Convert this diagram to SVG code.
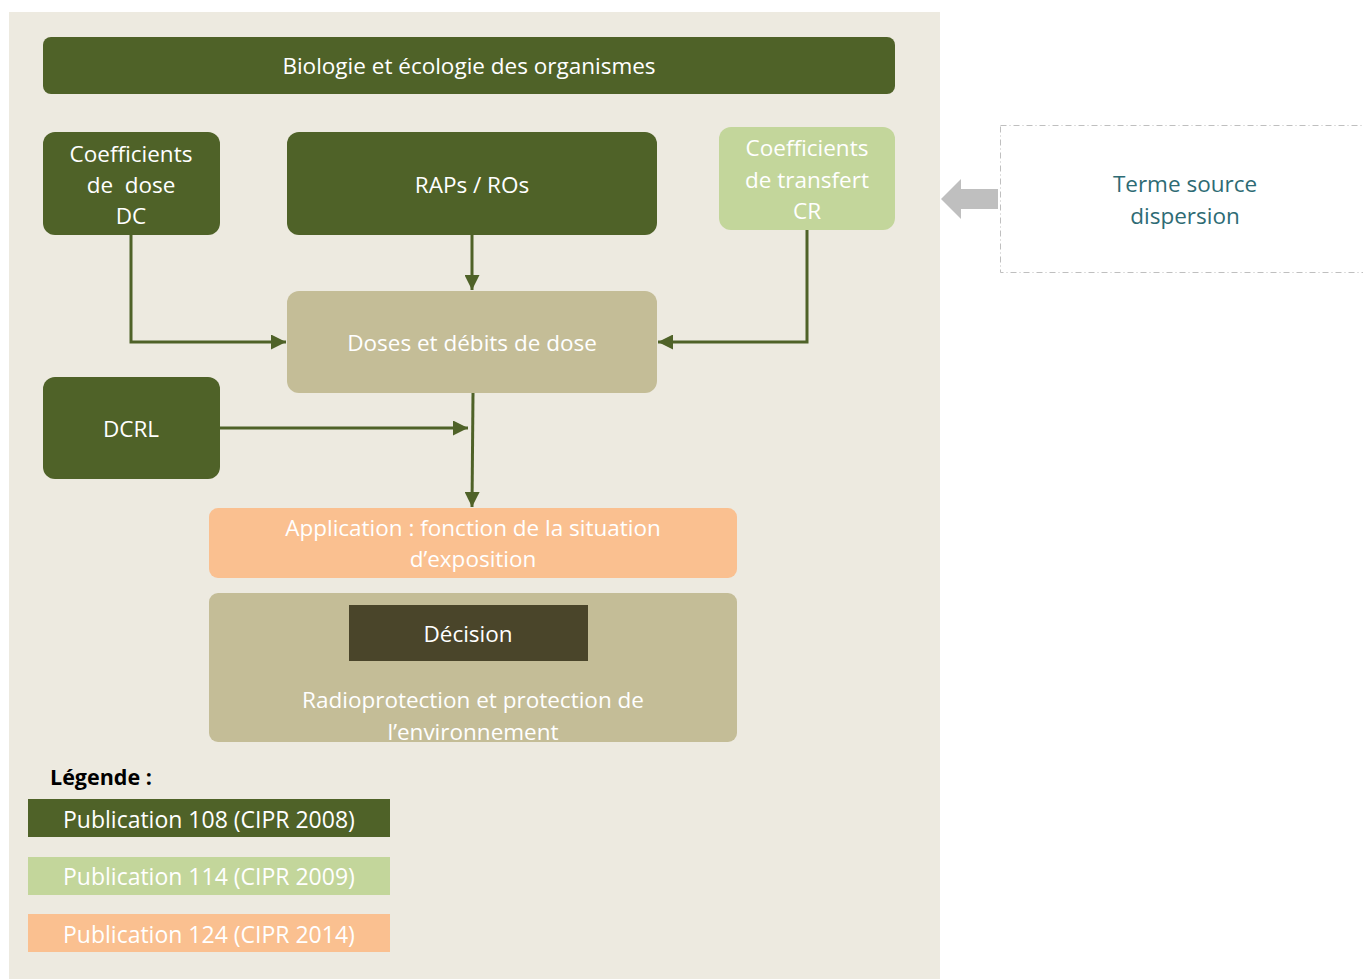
<svg xmlns="http://www.w3.org/2000/svg" width="1363" height="979" viewBox="0 0 1363 979">
  <style>
    text { font-family: "Open Sans", "Noto Sans", sans-serif; font-size: 22.5px; text-anchor: middle; fill: #ffffff; white-space: pre; }
    .dark { fill: #4F6228; }
    .light { fill: #C3D69B; }
    .tan { fill: #C4BD97; }
    .peach { fill: #FAC090; }
    .conn { fill: none; stroke: #4F6228; stroke-width: 3; }
    .legend { text-anchor: start; font-size: 23px; }
  </style>
  <defs>
    <marker id="arrow" viewBox="0 0 10 10" refX="10" refY="5" markerWidth="5" markerHeight="5" orient="auto" markerUnits="strokeWidth">
      <path d="M0,0 L10,5 L0,10 Z" fill="#4F6228"/>
    </marker>
  </defs>

  <rect x="0" y="0" width="1363" height="979" fill="#ffffff"/>
  <!-- main panel -->
  <rect id="panel" x="9" y="12" width="931" height="967" fill="#EDEAE0"/>

  <g id="biologie">
    <rect class="dark" x="43" y="37" width="852" height="57" rx="8"/>
    <text x="469" y="74">Biologie et écologie des organismes</text>
  </g>

  <g id="coef-dose">
    <rect class="dark" x="43" y="132" width="177" height="103" rx="12"/>
    <text x="131" y="162">Coefficients</text>
    <text x="131" y="193" xml:space="preserve">de  dose</text>
    <text x="131" y="224">DC</text>
  </g>

  <g id="raps">
    <rect class="dark" x="287" y="132" width="370" height="103" rx="12"/>
    <text x="472" y="193">RAPs / ROs</text>
  </g>

  <g id="coef-transfert">
    <rect class="light" x="719" y="127" width="176" height="103" rx="12"/>
    <text x="807" y="156">Coefficients</text>
    <text x="807" y="188">de transfert</text>
    <text x="807" y="219">CR</text>
  </g>

  <g id="doses">
    <rect class="tan" x="287" y="291" width="370" height="102" rx="12"/>
    <text x="472" y="351">Doses et débits de dose</text>
  </g>

  <g id="dcrl">
    <rect class="dark" x="43" y="377" width="177" height="102" rx="12"/>
    <text x="131" y="437">DCRL</text>
  </g>

  <g id="application">
    <rect class="peach" x="209" y="508" width="528" height="70" rx="9"/>
    <text x="473" y="536">Application : fonction de la situation</text>
    <text x="473" y="567">d’exposition</text>
  </g>

  <g id="radioprotection">
    <rect class="tan" x="209" y="593" width="528" height="149" rx="9"/>
    <rect x="349" y="605" width="239" height="56" fill="#4A452A"/>
    <text x="468" y="642">Décision</text>
    <text x="473" y="708">Radioprotection et protection de</text>
    <text x="473" y="740">l’environnement</text>
  </g>

  <g id="terme-source">
    <rect x="1000.5" y="125.5" width="370" height="147" fill="#ffffff" stroke="#BFBFBF" stroke-width="1" stroke-dasharray="6 3 1 3"/>
    <text x="1185" y="192" style="fill:#2E6B74">Terme source</text>
    <text x="1185" y="224" style="fill:#2E6B74">dispersion</text>
    <path d="M998,189 L961,189 L961,179 L941,199 L961,219 L961,209 L998,209 Z" fill="#BFBFBF"/>
  </g>

  <g id="connectors">
    <path class="conn" d="M131,235 V342 H286" marker-end="url(#arrow)"/>
    <path class="conn" d="M472,235 V290" marker-end="url(#arrow)"/>
    <path class="conn" d="M807,230 V342 H658" marker-end="url(#arrow)"/>
    <path class="conn" d="M473,393 L472,507" marker-end="url(#arrow)"/>
    <path class="conn" d="M220,428 H468" marker-end="url(#arrow)"/>
  </g>

  <g id="legende">
    <text class="legend" x="50" y="785" style="fill:#000000;font-weight:bold;font-size:21.5px">Légende :</text>
    <rect class="dark" x="28" y="799" width="362" height="38"/>
    <text class="legend" x="63" y="828">Publication 108 (CIPR 2008)</text>
    <rect class="light" x="28" y="857" width="362" height="38"/>
    <text class="legend" x="63" y="885">Publication 114 (CIPR 2009)</text>
    <rect class="peach" x="28" y="914" width="362" height="38"/>
    <text class="legend" x="63" y="943">Publication 124 (CIPR 2014)</text>
  </g>
</svg>
